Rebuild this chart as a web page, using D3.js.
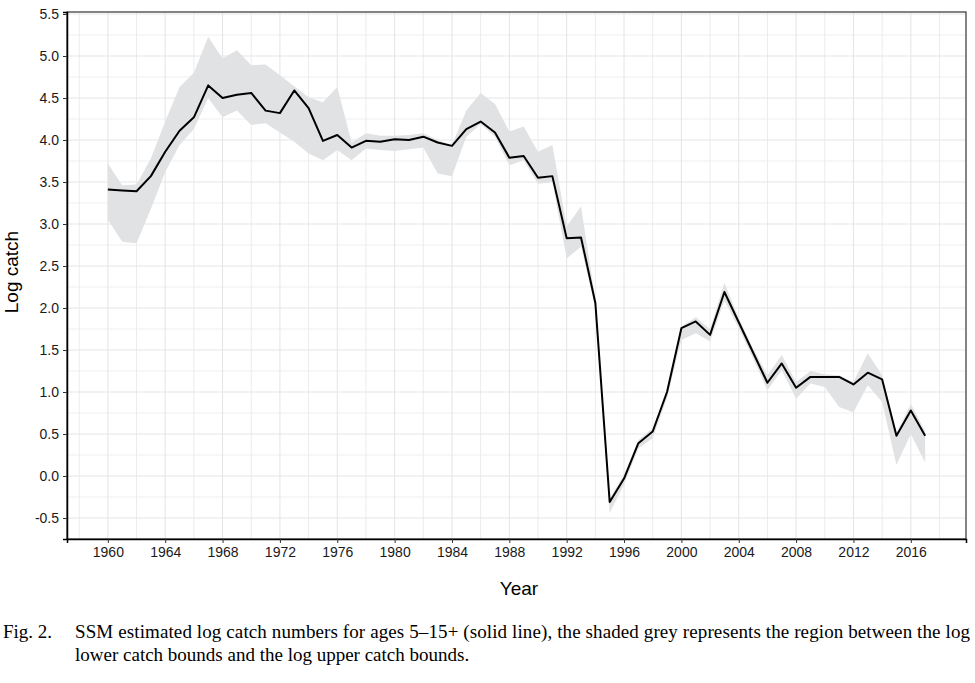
<!DOCTYPE html>
<html><head><meta charset="utf-8">
<script src="https://cdn.jsdelivr.net/npm/d3@7"></script>
<style>body{margin:0;background:#fff}</style>
</head><body><svg id="chart" width="975" height="683"></svg>
<script>
const years = [1960,1961,1962,1963,1964,1965,1966,1967,1968,1969,
  1970,1971,1972,1973,1974,1975,1976,1977,1978,1979,
  1980,1981,1982,1983,1984,1985,1986,1987,1988,1989,
  1990,1991,1992,1993,1994,1995,1996,1997,1998,1999,
  2000,2001,2002,2003,2004,2005,2006,2007,2008,2009,
  2010,2011,2012,2013,2014,2015,2016,2017];
const logCatch = [3.41,3.40,3.39,3.57,3.86,4.11,4.27,4.65,4.50,4.54,
  4.56,4.35,4.32,4.59,4.38,3.99,4.06,3.91,3.99,3.98,
  4.01,4.00,4.04,3.97,3.93,4.13,4.22,4.09,3.79,3.81,
  3.55,3.57,2.83,2.84,2.06,-0.31,-0.03,0.39,0.53,1.00,
  1.76,1.84,1.68,2.19,1.83,1.47,1.11,1.34,1.05,1.18,
  1.18,1.18,1.09,1.23,1.15,0.48,0.78,0.48];
const upperBound = [3.72,3.46,3.47,3.78,4.22,4.63,4.80,5.23,4.97,5.07,
  4.89,4.90,4.77,4.64,4.51,4.45,4.63,3.97,4.08,4.05,
  4.05,4.06,4.08,4.00,3.94,4.35,4.56,4.43,4.10,4.16,
  3.86,3.94,2.97,3.21,2.10,-0.27,0.02,0.43,0.57,1.04,
  1.78,1.89,1.75,2.30,1.88,1.52,1.20,1.44,1.12,1.25,
  1.21,1.20,1.12,1.46,1.20,0.51,0.86,0.53];
const lowerBound = [3.05,2.79,2.77,3.18,3.62,3.94,4.13,4.50,4.27,4.35,
  4.18,4.20,4.09,3.98,3.84,3.76,3.88,3.76,3.90,3.88,
  3.87,3.89,3.91,3.60,3.57,4.04,4.19,4.04,3.70,3.76,
  3.48,3.50,2.59,2.73,2.00,-0.44,-0.10,0.33,0.45,0.93,
  1.62,1.70,1.60,2.09,1.76,1.40,1.02,1.26,0.92,1.10,
  1.06,0.82,0.76,1.08,0.88,0.13,0.50,0.16];
const xTicks = [1960,1964,1968,1972,1976,1980,1984,1988,1992,1996,2000,2004,2008,2012,2016];
const xMinorGrid = [1958,1962,1966,1970,1974,1978,1982,1986,1990,1994,1998,2002,2006,2010,2014,2018];
const yTicks = [-0.5,0.0,0.5,1.0,1.5,2.0,2.5,3.0,3.5,4.0,4.5,5.0,5.5];
const yMinorGrid = [-0.25,0.25,0.75,1.25,1.75,2.25,2.75,3.25,3.75,4.25,4.75,5.25];
const xTitle = "Year";
const yTitle = "Log catch";
const captionLabel = "Fig. 2.";
const captionLines = [
  "SSM estimated log catch numbers for ages 5\u201315+ (solid line), the shaded grey represents the region between the log",
  "lower catch bounds and the log upper catch bounds."
];

const data = years.map((y,i)=>({year:y, v:logCatch[i], lo:lowerBound[i], hi:upperBound[i]}));

const svg = d3.select("#chart");
const m = {left:67, top:12, right:9, bottom:144};
const W = 975, H = 683;
const x = d3.scaleLinear().domain([1957.15, 2019.85]).range([m.left, W - m.right]);
const y = d3.scaleLinear().domain([-0.75, 5.524]).range([H - m.bottom, m.top]);
const sans = "Arial, 'Liberation Sans', sans-serif";

const g = svg.append("g");
// grid
g.selectAll(".gy2").data(yMinorGrid).join("line")
  .attr("x1", m.left).attr("x2", W-m.right).attr("y1", d=>y(d)).attr("y2", d=>y(d))
  .attr("stroke", "#f0f0f0").attr("stroke-width", 1.2);
g.selectAll(".gx2").data(xMinorGrid).join("line")
  .attr("y1", m.top).attr("y2", H-m.bottom).attr("x1", d=>x(d)).attr("x2", d=>x(d))
  .attr("stroke", "#ececec").attr("stroke-width", 1);
g.selectAll(".gy").data(yTicks).join("line")
  .attr("x1", m.left).attr("x2", W-m.right).attr("y1", d=>y(d)).attr("y2", d=>y(d))
  .attr("stroke", "#e6e6e6").attr("stroke-width", 1.2);
g.selectAll(".gx").data(xTicks).join("line")
  .attr("y1", m.top).attr("y2", H-m.bottom).attr("x1", d=>x(d)).attr("x2", d=>x(d))
  .attr("stroke", "#e4e4e4").attr("stroke-width", 1);

// band
g.append("path").datum(data)
  .attr("d", d3.area().x(d=>x(d.year)).y0(d=>y(d.lo)).y1(d=>y(d.hi)))
  .attr("fill", "#e1e2e4");
// line
g.append("path").datum(data)
  .attr("d", d3.line().x(d=>x(d.year)).y(d=>y(d.v)))
  .attr("fill", "none").attr("stroke", "#000").attr("stroke-width", 2)
  .attr("stroke-linejoin", "round");

// border
g.append("rect").attr("x", m.left).attr("y", m.top)
  .attr("width", W-m.right-m.left).attr("height", H-m.bottom-m.top)
  .attr("fill", "none").attr("stroke", "#333").attr("stroke-width", 1.2);

// axes
const xAxis = g.append("g").attr("transform", `translate(0,${H-m.bottom})`)
  .call(d3.axisBottom(x).tickValues(xTicks).tickFormat(d3.format("d")).tickSize(4).tickPadding(4));
const yAxis = g.append("g").attr("transform", `translate(${m.left},0)`)
  .call(d3.axisLeft(y).tickValues(yTicks).tickFormat(d=>d.toFixed(1)).tickSize(4).tickPadding(4));
[xAxis, yAxis].forEach(a=>{
  a.select(".domain").attr("stroke", "#000").attr("stroke-width", 1.5);
  a.selectAll(".tick line").attr("stroke", "#333").attr("stroke-width", 1);
  a.selectAll(".tick text").attr("font-family", sans).attr("font-size", 14).attr("fill", "#1a1a1a");
});

// titles
svg.append("text").attr("x", 519).attr("y", 595).attr("text-anchor", "middle")
  .attr("font-family", sans).attr("font-size", 19).attr("fill", "#000").text(xTitle);
svg.append("text").attr("transform", "translate(18,272) rotate(-90)").attr("text-anchor", "middle")
  .attr("font-family", sans).attr("font-size", 19).attr("fill", "#000").text(yTitle);

// caption
const serif = "'Times New Roman', 'Liberation Serif', serif";
const capFs = 19;
svg.append("text").attr("x", 3).attr("y", 638).attr("font-family", serif).attr("font-size", capFs).text(captionLabel);
const l1 = svg.append("text").attr("x", 75).attr("y", 638).attr("font-family", serif).attr("font-size", capFs).text(captionLines[0]);
l1.attr("textLength", 895).attr("lengthAdjust", "spacing");
svg.append("text").attr("x", 75).attr("y", 661).attr("font-family", serif).attr("font-size", capFs).text(captionLines[1]);
</script></body></html>
